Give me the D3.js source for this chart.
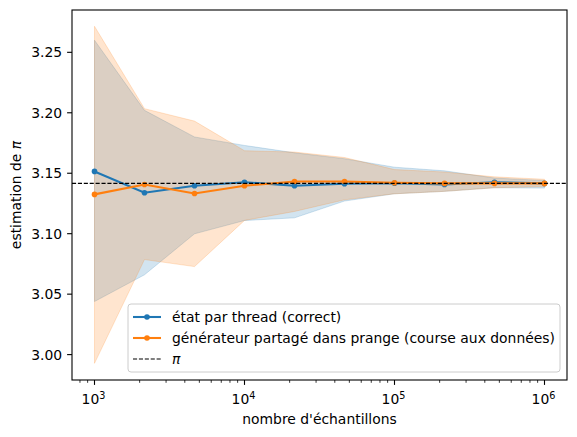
<!DOCTYPE html>
<html>
<head>
<meta charset="utf-8">
<script src="https://cdn.jsdelivr.net/npm/d3@7"></script>
<style>
  body { margin: 0; background: #fff; }
  text { font-family: "DejaVu Sans", sans-serif; }
</style>
</head>
<body>
<div id="chart"></div>
<script>
// sample counts (logspace 1e3 .. 1e6)
var samples = [1000, 2154, 4642, 10000, 21544, 46416, 100000, 215443, 464159, 1000000];

// per-thread state (correct)
var blueMean  = [3.1515, 3.1339, 3.1396, 3.1426, 3.1396, 3.1413, 3.1418, 3.1407, 3.1426, 3.1416];
var blueUpper = [3.2600, 3.2020, 3.1800, 3.1730, 3.1669, 3.1620, 3.1550, 3.1520, 3.1460, 3.1440];
var blueLower = [3.0439, 3.0660, 3.0999, 3.1109, 3.1131, 3.1270, 3.1330, 3.1350, 3.1380, 3.1377];

// shared generator in prange (data race)
var orangeMean  = [3.1325, 3.1407, 3.1333, 3.1396, 3.1432, 3.1432, 3.1421, 3.1416, 3.1416, 3.1416];
var orangeUpper = [3.2715, 3.2034, 3.1931, 3.1686, 3.1675, 3.1630, 3.1530, 3.1510, 3.1470, 3.1450];
var orangeLower = [2.9928, 3.0786, 3.0728, 3.1110, 3.1184, 3.1280, 3.1330, 3.1350, 3.1380, 3.1390];

var yTicks = [3.00, 3.05, 3.10, 3.15, 3.20, 3.25];
var xTicks = [1e3, 1e4, 1e5, 1e6];
var PI = Math.PI;

var labels = ["état par thread (correct)", "générateur partagé dans prange (course aux données)"];

var W = 577, H = 437;
var margin = {top: 10, right: 10, bottom: 57, left: 72};
var width = W - margin.left - margin.right,
    height = H - margin.top - margin.bottom;
var fs = 13.9;

var svg = d3.select("#chart").append("svg")
    .attr("width", W).attr("height", H);
var g = svg.append("g")
    .attr("transform", "translate(" + margin.left + "," + margin.top + ")");

var x = d3.scaleLog()
    .domain([Math.pow(10, 2.85), Math.pow(10, 6.15)])
    .range([0, width]);
var y = d3.scaleLinear()
    .domain([2.979, 3.285])
    .range([height, 0]);

var series = [
  {color: "#1f77b4", mean: blueMean, lo: blueLower, hi: blueUpper},
  {color: "#ff7f0e", mean: orangeMean, lo: orangeLower, hi: orangeUpper}
];

var area = d3.area()
    .x(function(d) { return x(d.n); })
    .y0(function(d) { return y(d.lo); })
    .y1(function(d) { return y(d.hi); });
var line = d3.line()
    .x(function(d) { return x(d.n); })
    .y(function(d) { return y(d.v); });

// bands first
series.forEach(function(s) {
  var pts = samples.map(function(n, i) { return {n: n, lo: s.lo[i], hi: s.hi[i]}; });
  g.append("path").datum(pts)
    .attr("d", area)
    .attr("fill", s.color)
    .attr("fill-opacity", 0.2)
    .attr("stroke", s.color)
    .attr("stroke-opacity", 0.2)
    .attr("stroke-width", 1);
});

// lines + markers
series.forEach(function(s) {
  var pts = samples.map(function(n, i) { return {n: n, v: s.mean[i]}; });
  g.append("path").datum(pts)
    .attr("d", line)
    .attr("fill", "none")
    .attr("stroke", s.color)
    .attr("stroke-width", 2.08);
  g.selectAll(null).data(pts).enter().append("circle")
    .attr("cx", function(d) { return x(d.n); })
    .attr("cy", function(d) { return y(d.v); })
    .attr("r", 2.8)
    .attr("fill", s.color);
});

// pi reference line
g.append("line")
  .attr("x1", 0).attr("x2", width)
  .attr("y1", y(PI)).attr("y2", y(PI))
  .attr("stroke", "#000")
  .attr("stroke-width", 1.1)
  .attr("stroke-dasharray", "4.1,1.8");

// axes
var xAxis = g.append("g").attr("transform", "translate(0," + height + ")");
var minor = [];
for (var e = 2; e <= 6; e++) {
  for (var k = 2; k <= 9; k++) {
    var v = k * Math.pow(10, e);
    if (v > x.domain()[0] && v < x.domain()[1]) minor.push(v);
  }
}
xAxis.selectAll(".minor").data(minor).enter().append("line")
  .attr("x1", function(d) { return x(d); }).attr("x2", function(d) { return x(d); })
  .attr("y1", 0).attr("y2", 2.8)
  .attr("stroke", "#000").attr("stroke-width", 0.8);
xAxis.selectAll(".major").data(xTicks).enter().append("line")
  .attr("x1", function(d) { return x(d); }).attr("x2", function(d) { return x(d); })
  .attr("y1", 0).attr("y2", 4.9)
  .attr("stroke", "#000").attr("stroke-width", 1.1);
var xl = xAxis.selectAll(".lab").data(xTicks).enter().append("text")
  .attr("x", function(d) { return x(d) - 1; })
  .attr("y", 24.3)
  .attr("text-anchor", "middle")
  .attr("font-size", fs)
  .attr("fill", "#000");
xl.append("tspan").text("10");
xl.append("tspan")
  .attr("dy", -5.2)
  .attr("font-size", 9.7)
  .text(function(d) { return Math.round(Math.log10(d)); });

var yAxis = g.append("g");
yAxis.selectAll("line").data(yTicks).enter().append("line")
  .attr("x1", -4.9).attr("x2", 0)
  .attr("y1", function(d) { return y(d); }).attr("y2", function(d) { return y(d); })
  .attr("stroke", "#000").attr("stroke-width", 1.1);
yAxis.selectAll("text").data(yTicks).enter().append("text")
  .attr("x", -9.8)
  .attr("y", function(d) { return y(d); })
  .attr("dy", "0.36em")
  .attr("text-anchor", "end")
  .attr("font-size", fs)
  .text(function(d) { return d3.format(".2f")(d); });

// frame
g.append("rect")
  .attr("width", width).attr("height", height)
  .attr("fill", "none").attr("stroke", "#000").attr("stroke-width", 1.1);

// axis labels
svg.append("text")
  .attr("x", margin.left + width / 2)
  .attr("y", 424)
  .attr("text-anchor", "middle")
  .attr("font-size", fs)
  .text("nombre d'échantillons");
var yl = svg.append("text")
  .attr("transform", "translate(21," + (margin.top + height / 2) + ") rotate(-90)")
  .attr("text-anchor", "middle")
  .attr("font-size", fs);
yl.append("tspan").text("estimation de ");
yl.append("tspan").attr("font-style", "italic").text("π");

// legend
var lg = g.append("g").attr("transform", "translate(56,294)");
lg.append("rect")
  .attr("width", 432).attr("height", 68)
  .attr("rx", 3)
  .attr("fill", "#fff").attr("fill-opacity", 0.8)
  .attr("stroke", "#ccc").attr("stroke-width", 1);
var entries = [
  {label: labels[0], color: "#1f77b4", dash: null, marker: true},
  {label: labels[1], color: "#ff7f0e", dash: null, marker: true},
  {label: "π", color: "#000", dash: "4.1,1.8", marker: false}
];
entries.forEach(function(en, i) {
  var yy = 13 + i * 21;
  lg.append("line")
    .attr("x1", 5).attr("x2", 33)
    .attr("y1", yy).attr("y2", yy)
    .attr("stroke", en.color)
    .attr("stroke-width", en.marker ? 2.08 : 1.1)
    .attr("stroke-dasharray", en.dash);
  if (en.marker) {
    lg.append("circle").attr("cx", 19).attr("cy", yy).attr("r", 2.8).attr("fill", en.color);
  }
  lg.append("text")
    .attr("x", 44).attr("y", yy)
    .attr("dy", "0.36em")
    .attr("font-size", fs)
    .attr("font-style", en.marker ? null : "italic")
    .text(en.label);
});
</script>
</body>
</html>
